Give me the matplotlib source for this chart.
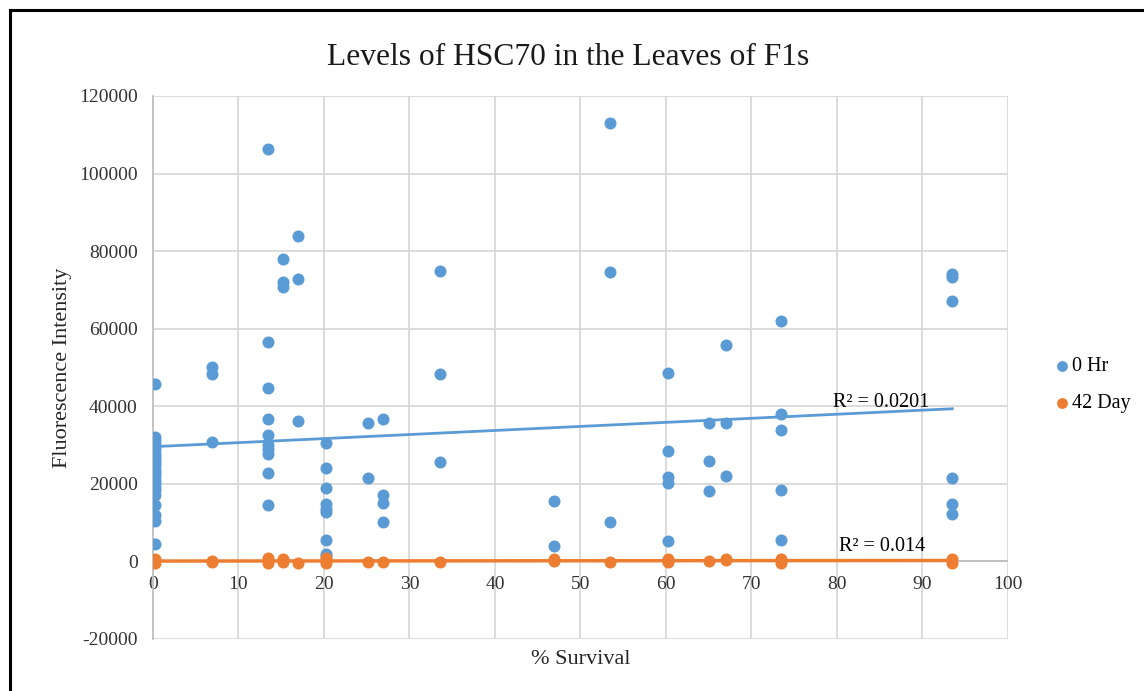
import numpy as np
import matplotlib
matplotlib.use("Agg")
import matplotlib.pyplot as plt
from matplotlib.lines import Line2D
from matplotlib.transforms import ScaledTranslation

plt.rcParams['font.family'] = ['Liberation Serif', 'DejaVu Serif']
plt.rcParams['axes.unicode_minus'] = False

# 0 Hr measurements, grouped by % survival
hr0_x = ([0.2] * 23 + [6.9] * 3 + [13.5] * 10 + [15.2] * 3 + [17.0] * 3
         + [20.3] * 9 + [25.2] * 2 + [26.9] * 4 + [33.6] * 3 + [46.9] * 2
         + [53.5] * 3 + [60.3] * 5 + [65.1] * 3 + [67.0] * 3 + [73.5] * 5
         + [93.5] * 6)
hr0_y = [45700, 32000, 31200, 30300, 29500, 28600, 27800, 27000, 26200, 25300,
         24500, 23600, 22800, 21900, 21000, 20100, 19200, 18300, 17000, 14500,
         12000, 10500, 4600,
         50100, 48300, 30800,
         106300, 56600, 44800, 36800, 32500, 30000, 29000, 27800, 22800, 14500,
         77900, 72100, 70800,
         83900, 72800, 36200,
         30600, 24100, 19000, 14900, 13600, 12700, 5600, 2000, 1400,
         35700, 21500,
         36600, 17200, 15100, 10200,
         74900, 48400, 25600,
         15600, 3900,
         113000, 74700, 10100,
         48700, 28400, 21800, 20300, 5200,
         35800, 25800, 18100,
         55700, 35800, 22000,
         61900, 38100, 33800, 18500, 5400,
         74200, 73400, 67100, 21500, 14900, 12100]

# 42 Day measurements
day42_x = [0.2, 0.2, 6.9, 6.9, 13.5, 13.5, 15.2, 15.2, 17.0, 20.3, 20.3, 20.3,
           25.2, 26.9, 33.6, 46.9, 46.9, 53.5, 60.3, 60.3, 65.1, 67.0, 67.0,
           73.5, 73.5, 93.5, 93.5]
day42_y = [500, -300, 200, -200, 800, -400, 600, -100, -300, 900, 300, -300,
           -100, -200, -100, 700, 200, -200, 600, -200, 200, 700, 300,
           500, -300, 500, -300]

x0 = np.array(hr0_x)
y0 = np.array(hr0_y)
x1 = np.array(day42_x)
y1 = np.array(day42_y)

blue = '#5B9BD5'
orange = '#ED7D31'

fig = plt.figure(figsize=(11.44, 6.91), dpi=100)
ax = fig.add_axes([0.1337, 0.0753, 0.7473, 0.7858])

ax.scatter(x0, y0, s=75, color=blue, zorder=3, label='0 Hr', linewidths=0)
ax.scatter(x1, y1, s=75, color=orange, zorder=3, label='42 Day', linewidths=0)


def trend(x, y):
    k, b = np.polyfit(x, y, 1)
    pred = k * x + b
    r2 = 1 - np.sum((y - pred) ** 2) / np.sum((y - y.mean()) ** 2)
    return k, b, r2


k0, b0, r0 = trend(x0, y0)
k1, b1, r1 = trend(x1, y1)
xs = np.array([x0.min(), x0.max()])
ax.plot(xs, k0 * xs + b0, color=blue, lw=2, zorder=2)
xs1 = np.array([x1.min(), x1.max()])
ax.plot(xs1, k1 * xs1 + b1, color=orange, lw=2.5, zorder=2)

ax.text(79.5, 41000, 'R² = 0.0201', fontsize=14.5, ha='left', va='center')
ax.text(80.3, 3900, 'R² = 0.014', fontsize=14.5, ha='left', va='center')

ax.set_xlim(0, 100)
ax.set_ylim(-20000, 120000)
ax.set_xticks(np.arange(0, 101, 10))
ax.set_yticks(np.arange(-20000, 120001, 20000))
ax.grid(True, color='#D9D9D9', lw=1.3)
ax.set_axisbelow(True)
for s in ['top', 'right', 'bottom']:
    ax.spines[s].set_visible(False)
ax.spines['left'].set_color('#BFBFBF')
ax.spines['left'].set_linewidth(1.3)
ax.axhline(0, color='#BFBFBF', lw=1.3, zorder=1)
ax.tick_params(length=0, labelsize=14, colors='#333333')
ax.tick_params(axis='y', pad=11)
ax.tick_params(axis='x', pad=6)
# x labels sit under the zero line
for lbl in ax.get_xticklabels():
    lbl.set_transform(lbl.get_transform() + ScaledTranslation(0, 51.5 / 72, fig.dpi_scale_trans))

ax.set_xlabel('% Survival', fontsize=16, color='#262626', labelpad=8)
ax.set_ylabel('Fluorescence Intensity', fontsize=16, color='#262626', labelpad=5)
fig.text(0.497, 0.917, 'Levels of HSC70 in the Leaves of F1s', ha='center',
         va='center', fontsize=22.7, color='#1a1a1a')

leg = fig.legend(loc='upper left', bbox_to_anchor=(0.904, 0.51), frameon=False,
                 fontsize=14.5, handletextpad=0.0, labelspacing=0.9, markerscale=0.9,
                 handlelength=1.0)

# outer chart frame
fig.add_artist(Line2D([10 / 1144, 10 / 1144], [0, 1 - 10 / 691], color='black', lw=2.2,
                      transform=fig.transFigure))
fig.add_artist(Line2D([10 / 1144, 1], [1 - 10 / 691, 1 - 10 / 691], color='black', lw=2.2,
                      transform=fig.transFigure))

fig.savefig('out.png', dpi=100)
